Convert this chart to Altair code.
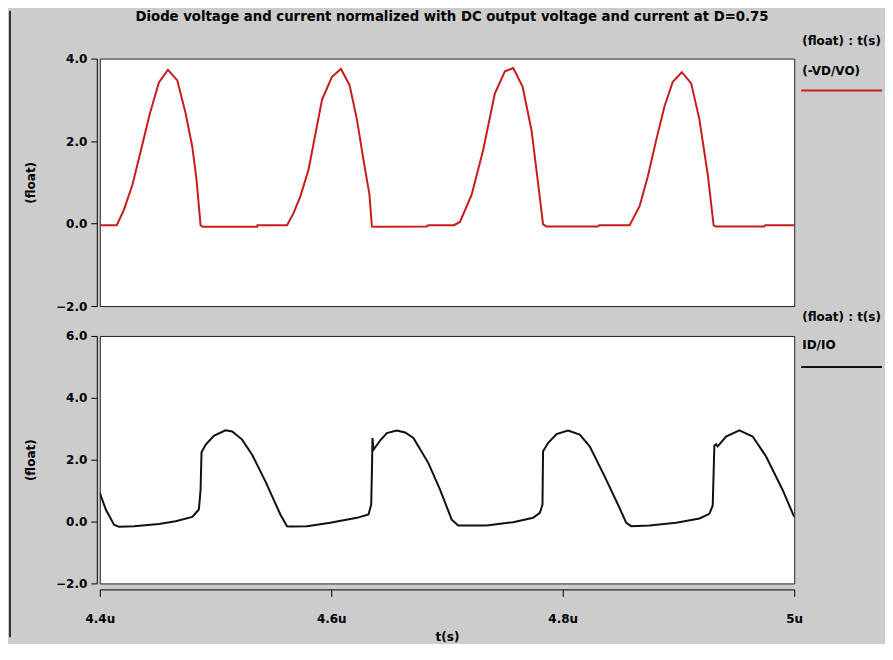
import altair as alt
import pandas as pd

# ---- data (time in microseconds) ----
top_t = [4.4000, 4.4147, 4.4209, 4.4282, 4.4353, 4.4434, 4.4511, 4.4589, 4.4670, 4.4741,
         4.4799, 4.4836, 4.4871, 4.4894, 4.5360, 4.5362, 4.5618, 4.5675, 4.5733, 4.5804,
         4.5920, 4.6006, 4.6084, 4.6158, 4.6222, 4.6278, 4.6330, 4.6351, 4.6371, 4.6825,
         4.6836, 4.7060, 4.7112, 4.7213, 4.7313, 4.7414, 4.7500, 4.7572, 4.7653, 4.7730,
         4.7787, 4.7830, 4.7860, 4.8304, 4.8315, 4.8578, 4.8664, 4.8735, 4.8808, 4.8879,
         4.8951, 4.9029, 4.9110, 4.9181, 4.9253, 4.9304, 4.9325, 4.9741, 4.9750, 5.0000]
top_v = [-0.04, -0.04, 0.34, 0.94, 1.75, 2.68, 3.42, 3.73, 3.47, 2.68,
         1.87, 1.06, -0.05, -0.08, -0.08, -0.04, -0.04, 0.26, 0.66, 1.31,
         3.00, 3.56, 3.75, 3.36, 2.52, 1.55, 0.70, -0.07, -0.08, -0.07,
         -0.04, -0.04, 0.04, 0.70, 1.79, 3.16, 3.69, 3.77, 3.32, 2.27,
         0.98, -0.02, -0.07, -0.07, -0.04, -0.04, 0.42, 1.14, 2.03, 2.84,
         3.44, 3.67, 3.40, 2.52, 1.19, -0.05, -0.07, -0.07, -0.04, -0.04]

bot_t = [4.4000, 4.4052, 4.4123, 4.4166, 4.4296, 4.4511, 4.4655, 4.4799, 4.4856, 4.4871,
         4.4879, 4.4914, 4.4985, 4.5086, 4.5144, 4.5230, 4.5316, 4.5431, 4.5560, 4.5618,
         4.5647, 4.5791, 4.5991, 4.6222, 4.6322, 4.6345, 4.6351, 4.6356, 4.6365, 4.6422,
         4.6480, 4.6566, 4.6638, 4.6710, 4.6839, 4.6940, 4.7041, 4.7097, 4.7342, 4.7572,
         4.7744, 4.7802, 4.7825, 4.7830, 4.7873, 4.7946, 4.8046, 4.8147, 4.8233, 4.8362,
         4.8477, 4.8549, 4.8592, 4.8750, 4.8980, 4.9181, 4.9267, 4.9296, 4.9310, 4.9325,
         4.9339, 4.9411, 4.9526, 4.9641, 4.9756, 4.9899, 5.0000]
bot_v = [0.93, 0.39, -0.10, -0.17, -0.15, -0.08, 0.01, 0.15, 0.39, 1.03,
         2.24, 2.48, 2.77, 2.95, 2.91, 2.65, 2.16, 1.30, 0.23, -0.15,
         -0.16, -0.15, -0.04, 0.12, 0.23, 0.55, 1.57, 2.70, 2.32, 2.62,
         2.86, 2.94, 2.88, 2.70, 1.89, 1.03, 0.06, -0.13, -0.13, -0.02,
         0.12, 0.28, 0.55, 2.27, 2.54, 2.83, 2.94, 2.81, 2.43, 1.46,
         0.55, -0.04, -0.15, -0.13, -0.04, 0.10, 0.25, 0.52, 2.45, 2.50,
         2.43, 2.75, 2.95, 2.75, 2.11, 1.03, 0.15]

title_text = "Diode voltage and current normalized with DC output voltage and current at D=0.75"
x_ticks = [4.4, 4.6, 4.8, 5.0]
top_y_ticks = [-2, 0, 2, 4]
bot_y_ticks = [-2, 0, 2, 4, 6]
top_legend = ["(float) : t(s)", "(-VD/VO)"]
bot_legend = ["(float) : t(s)", "ID/IO"]

BG = "#cccccc"
FONT = "DejaVu Sans"
RED = "#c81c1c"
BLACK = "#111111"
W, H = 696, 248

top_df = pd.DataFrame({"t": top_t, "v": top_v})
bot_df = pd.DataFrame({"t": bot_t, "v": bot_v})
one = pd.DataFrame({"k": [0]})


def txt(s, x, y, size=12, align="left"):
    return alt.Chart(one).mark_text(
        text=s, font=FONT, fontWeight="bold", fontSize=size, align=align,
        baseline="middle", color="#000000"
    ).encode(x=alt.value(x), y=alt.value(y))


def rule(x, x2, y, y2, color, w):
    return alt.Chart(one).mark_rule(color=color, strokeWidth=w).encode(
        x=alt.value(x), x2=alt.value(x2), y=alt.value(y), y2=alt.value(y2)
    )


xscale = alt.Scale(domain=[4.4, 5.0], nice=False, zero=False)

top_line = alt.Chart(top_df).mark_line(color=RED, strokeWidth=2, clip=True).encode(
    x=alt.X("t:Q", scale=xscale, axis=None),
    y=alt.Y("v:Q", scale=alt.Scale(domain=[-2, 4], nice=False, zero=False),
            axis=alt.Axis(values=top_y_ticks, format=".1f", title="(float)",
                          offset=3, tickSize=6, labelPadding=4, titlePadding=18, grid=False)),
)

bot_line = alt.Chart(bot_df).mark_line(color=BLACK, strokeWidth=2, clip=True).encode(
    x=alt.X("t:Q", scale=xscale,
            axis=alt.Axis(values=x_ticks,
                          labelExpr="datum.value >= 4.999 ? '5u' : format(datum.value, '.1f') + 'u'",
                          title="t(s)", offset=6, tickSize=7, labelPadding=17, titlePadding=7,
                          labelFlush=False, grid=False)),
    y=alt.Y("v:Q", scale=alt.Scale(domain=[-2, 6], nice=False, zero=False),
            axis=alt.Axis(values=bot_y_ticks, format=".1f", title="(float)",
                          offset=3, tickSize=6, labelPadding=4, titlePadding=18, grid=False)),
)

top = alt.layer(
    top_line,
    rule(-90, -90, -48, 263, "#333333", 2),
    rule(785, 785, -48, 263, BG, 2),
    txt(title_text, 353, -42, size=13.3, align="center"),
    txt(top_legend[0], 704, -18),
    txt(top_legend[1], 704, 12),
    rule(703, 784, 32, 32, RED, 2),
).properties(width=W, height=H)

bottom = alt.layer(
    bot_line,
    rule(-90, -90, -15, 302, "#333333", 2),
    rule(785, 785, -15, 302, BG, 2),
    txt(bot_legend[0], 704, -19),
    txt(bot_legend[1], 704, 9),
    rule(703, 784, 31, 31, BLACK, 2),
).properties(width=W, height=H)

chart = alt.vconcat(top, bottom, spacing=30, bounds="flush").resolve_scale(
    y="independent"
).properties(
    background=BG,
    padding={"left": 0, "top": 0, "right": 0, "bottom": 0},
).configure_axis(
    labelFont=FONT, labelFontSize=12, labelFontWeight="bold", labelColor="#000000",
    titleFont=FONT, titleFontSize=12, titleFontWeight="bold", titleColor="#000000",
    domainColor="#000000", tickColor="#000000", domainWidth=1, tickWidth=1,
).configure_view(stroke="#222222", strokeWidth=1, fill="white")

chart.save("out.html", embed_options={"renderer": "svg", "actions": False})
